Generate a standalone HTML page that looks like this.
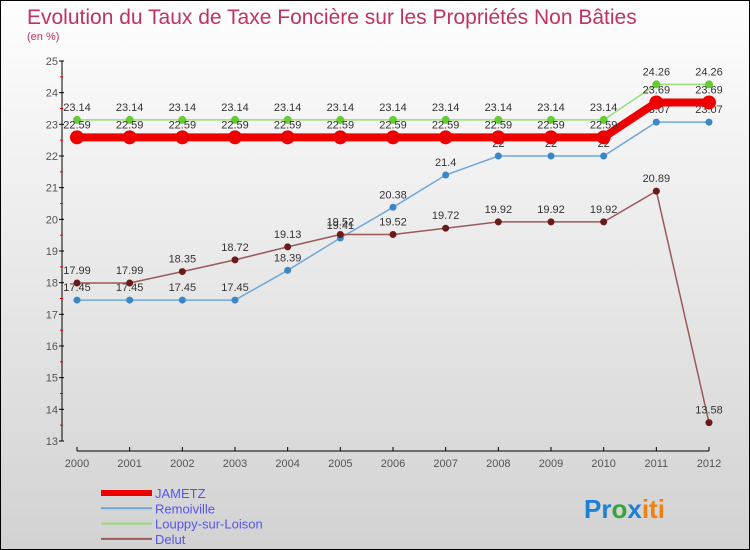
<!DOCTYPE html>
<html><head><meta charset="utf-8"><style>
html,body{margin:0;padding:0}
body{width:750px;height:550px;overflow:hidden;font-family:"Liberation Sans",sans-serif}
#wrap{position:relative;width:748px;height:548px;border:1px solid #000;background:linear-gradient(#fefefe,#d2d2d2)}
</style></head><body>
<div id="wrap">
<svg id="chart" width="748" height="548" style="position:absolute;left:0;top:0">
<text x="26" y="23" font-size="21" fill="#c0335e">Evolution du Taux de Taxe Foncière sur les Propriétés Non Bâties</text>
<text x="26" y="39" font-size="11" fill="#c0335e">(en %)</text>
<g id="axes"></g><g id="series"></g><g id="legend"></g>
<g font-size="26" font-weight="bold" font-family="'Liberation Sans',sans-serif">
<text x="583" y="517"><tspan fill="#1f7fd6">Pr</tspan><tspan fill="#3aa040">o</tspan><tspan fill="#1f7fd6">x</tspan><tspan fill="#f08010">iti</tspan></text></g>
</svg>
</div>
<script>
const years=[2000,2001,2002,2003,2004,2005,2006,2007,2008,2009,2010,2011,2012];
const yTicks=[13,14,15,16,17,18,19,20,21,22,23,24,25];
const jametz=[22.59,22.59,22.59,22.59,22.59,22.59,22.59,22.59,22.59,22.59,22.59,23.69,23.69];
const remoiville=[17.45,17.45,17.45,17.45,18.39,19.41,20.38,21.4,22,22,22,23.07,23.07];
const louppy=[23.14,23.14,23.14,23.14,23.14,23.14,23.14,23.14,23.14,23.14,23.14,24.26,24.26];
const delut=[17.99,17.99,18.35,18.72,19.13,19.52,19.52,19.72,19.92,19.92,19.92,20.89,13.58];
const NS='http://www.w3.org/2000/svg';
const xS=i=>76+i*(632/12);
const yS=v=>60+(25-v)*(380/12);
function mk(tag,attrs,parent){const e=document.createElementNS(NS,tag);for(const k in attrs)e.setAttribute(k,attrs[k]);parent.appendChild(e);return e;}
const axes=document.getElementById('axes');
let a=mk('line',{x1:61,y1:60,x2:61,y2:440,stroke:'#000'},axes);


a=mk('line',{x1:76,y1:450,x2:708,y2:450,stroke:'#000'},axes);


yTicks.forEach(v=>{
 mk('line',{x1:58,y1:yS(v),x2:63,y2:yS(v),stroke:'#000'},axes);
 if(v<25){mk('line',{x1:59,y1:yS(v+0.5),x2:62,y2:yS(v+0.5),stroke:'#e00'},axes);}
 const t=mk('text',{x:57,y:yS(v)+4,'text-anchor':'end','font-size':11,fill:'#555'},axes);
 t.textContent=v;
 
 
});
years.forEach((y,i)=>{
 mk('line',{x1:xS(i),y1:446,x2:xS(i),y2:450,stroke:'#000'},axes);
 const t=mk('text',{x:xS(i),y:466,'text-anchor':'middle','font-size':11,fill:'#555'},axes);
 t.textContent=y;
 
 
});
const ser=document.getElementById('series');
function draw(vals,color,w,r,name,mcolor){
 const g=mk('g',{},ser);
 
 
 const p=mk('polyline',{points:vals.map((v,i)=>xS(i)+','+yS(v)).join(' '),fill:'none',stroke:color,'stroke-width':w},g);
 
 
 vals.forEach((v,i)=>{
  const c=mk('circle',{cx:xS(i),cy:yS(v),r:r,fill:mcolor},g);
  
  
  const t=mk('text',{x:xS(i),y:yS(v)-9,'text-anchor':'middle','font-size':11,fill:'#333'},g);
  t.textContent=v;
  
  
 });
}
draw(louppy,'#99dd77',1.5,4,'louppy-sur-loison','#66cc33');
draw(remoiville,'#6fa8d8',1.5,3.5,'remoiville','#3a86c8');
draw(delut,'#9a5a5a',1.5,3.5,'delut','#6b1a1a');
draw(jametz,'#ee0000',8,7,'jametz','#ee0000');
const lg=document.getElementById('legend');
const items=[['JAMETZ','#ee0000',6],['Remoiville','#6fa8d8',2],['Louppy-sur-Loison','#99dd77',2],['Delut','#9a5a5a',2]];
items.forEach((it,i)=>{
 const yy=492+i*15.3;
 const g=mk('g',{},lg);
 
 
 mk('line',{x1:100,y1:yy,x2:151,y2:yy,stroke:it[1],'stroke-width':it[2]},g);
 const t=mk('text',{x:154,y:yy+5,'font-size':13,fill:'#5555ee'},g);
 t.textContent=it[0];
});
</script>
</body></html>
